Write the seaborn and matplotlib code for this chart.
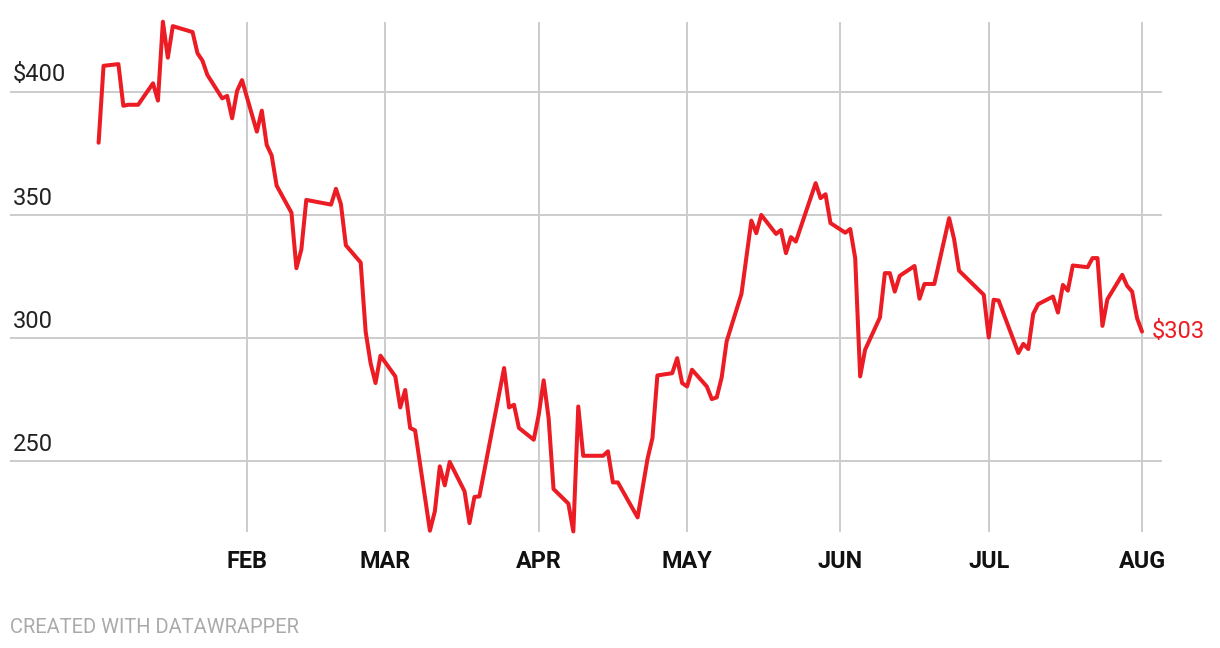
import pandas as pd
import matplotlib
matplotlib.use("Agg")
import matplotlib.pyplot as plt
import seaborn as sns

# Dati (2022, prezzo di chiusura approssimato)
dates = [
    "01-02", "01-03", "01-06", "01-07", "01-08", "01-10", "01-13", "01-14", "01-15", "01-16",
    "01-17", "01-21", "01-22", "01-23", "01-24", "01-27", "01-28", "01-29", "01-30", "01-31",
    "02-03", "02-04", "02-05", "02-06", "02-07", "02-10", "02-11", "02-12", "02-13", "02-18",
    "02-19", "02-20", "02-21", "02-24", "02-25", "02-26", "02-27", "02-28", "03-03", "03-04",
    "03-05", "03-06", "03-07", "03-10", "03-11", "03-12", "03-13", "03-14", "03-17", "03-18",
    "03-19", "03-20", "03-25", "03-26", "03-27", "03-28", "03-31", "04-01", "04-02", "04-03",
    "04-04", "04-07", "04-08", "04-09", "04-10", "04-14", "04-15", "04-16", "04-17", "04-21",
    "04-23", "04-24", "04-25", "04-28", "04-29", "04-30", "05-01", "05-02", "05-05", "05-06",
    "05-07", "05-08", "05-09", "05-12", "05-14", "05-15", "05-16", "05-19", "05-20", "05-21",
    "05-22", "05-23", "05-27", "05-28", "05-29", "05-30", "06-02", "06-03", "06-04", "06-05",
    "06-06", "06-09", "06-10", "06-11", "06-12", "06-13", "06-16", "06-17", "06-18", "06-20",
    "06-23", "06-24", "06-25", "06-30", "07-01", "07-02", "07-03", "07-07", "07-08", "07-09",
    "07-10", "07-11", "07-14", "07-15", "07-16", "07-17", "07-18", "07-21", "07-22", "07-23",
    "07-24", "07-25", "07-28", "07-29", "07-30", "07-31", "08-01",
]
prices = [
    379.3, 410.5, 411.2, 394.3, 394.7, 394.7, 403.4, 396.4, 428.4, 413.8,
    426.6, 424.2, 415.6, 412.6, 406.8, 397.3, 398.3, 389.2, 400.3, 404.7,
    383.8, 392.3, 378.4, 374.1, 361.9, 350.9, 328.4, 336.0, 356.1, 354.2,
    360.6, 354.4, 337.7, 330.7, 302.7, 289.9, 281.8, 292.9, 284.5, 271.9,
    279.0, 263.6, 262.6, 221.9, 229.8, 248.0, 240.3, 249.8, 237.9, 225.0,
    235.6, 235.8, 287.9, 271.9, 273.0, 263.6, 258.8, 268.9, 282.9, 267.6,
    238.8, 232.9, 221.6, 272.3, 252.3, 252.3, 254.1, 241.5, 241.5, 227.3,
    251.0, 259.5, 284.9, 285.8, 291.9, 281.8, 280.4, 287.2, 280.4, 275.3,
    276.0, 284.1, 298.7, 318.0, 347.7, 342.6, 350.0, 342.3, 343.9, 334.5,
    341.0, 339.2, 362.9, 356.8, 358.4, 346.7, 342.8, 344.3, 332.5, 284.5,
    295.3, 308.4, 326.4, 326.4, 318.9, 325.3, 329.3, 316.0, 322.0, 322.0,
    348.7, 340.2, 327.4, 317.6, 300.3, 315.6, 315.3, 294.0, 297.7, 295.6,
    309.9, 313.8, 316.9, 310.4, 321.6, 319.3, 329.5, 328.8, 332.5, 332.5,
    305.0, 315.8, 325.7, 321.2, 318.9, 308.1, 302.7,
]
y_ticks = [250, 300, 350, 400]
y_labels = ["250", "300", "350", "$400"]
month_ticks = ["2022-02-01", "2022-03-01", "2022-04-01", "2022-05-01",
               "2022-06-01", "2022-07-01", "2022-08-01"]
month_labels = ["FEB", "MAR", "APR", "MAY", "JUN", "JUL", "AUG"]
end_label = "$303"

df = pd.DataFrame({"data": pd.to_datetime(["2022-" + d for d in dates]),
                   "prezzo": prices})

sns.set_theme(style="white")
plt.rcParams["font.family"] = ["Roboto", "DejaVu Sans"]

rosso = "#ec1c24"
griglia = "#cccccc"

fig = plt.figure(figsize=(12.2, 6.48), dpi=100)
ax = fig.add_axes([10 / 1220, 1 - 531.7 / 648, 1152 / 1220, 510 / 648])

sns.lineplot(data=df, x="data", y="prezzo", color=rosso, linewidth=2.9,
             ax=ax, clip_on=False, solid_joinstyle="round", solid_capstyle="round")

ax.set_xlim(pd.Timestamp("2021-12-15 02:00"), pd.Timestamp("2022-08-05 01:00"))
ax.set_ylim(221.5, 428.4)

# griglia
for v in y_ticks:
    ax.axhline(v, color=griglia, linewidth=1.4, zorder=0)
for m in month_ticks:
    ax.axvline(pd.Timestamp(m), color=griglia, linewidth=1.4, zorder=0)

ax.set_yticks([])
ax.set_xticks(pd.to_datetime(month_ticks))
ax.set_xticklabels(month_labels, fontsize=16.8, fontweight="bold",
                   family=["Liberation Sans Narrow", "Roboto"], color="#111111")
ax.tick_params(axis="x", length=0, pad=13.5)
ax.set_xlabel("")
ax.set_ylabel("")
for s in ax.spines.values():
    s.set_visible(False)

# etichette asse y sopra le linee
trans = ax.get_yaxis_transform()
for v, lab in zip(y_ticks, y_labels):
    ax.annotate(lab, xy=(0, v), xycoords=trans, xytext=(2, 7.5),
                textcoords="offset points", fontsize=17, color="#222222",
                ha="left", va="baseline")

# valore finale
ax.annotate(end_label, xy=(df["data"].iloc[-1], df["prezzo"].iloc[-1]),
            xytext=(7, 0), textcoords="offset points", fontsize=17,
            color=rosso, ha="left", va="center")

fig.text(10 / 1220, 1 - 633 / 648, "CREATED WITH DATAWRAPPER", fontsize=14.5,
         color="#aaaaaa", family=["Liberation Sans Narrow", "Roboto"],
         ha="left", va="baseline")

plt.savefig("out.png", dpi=100)
